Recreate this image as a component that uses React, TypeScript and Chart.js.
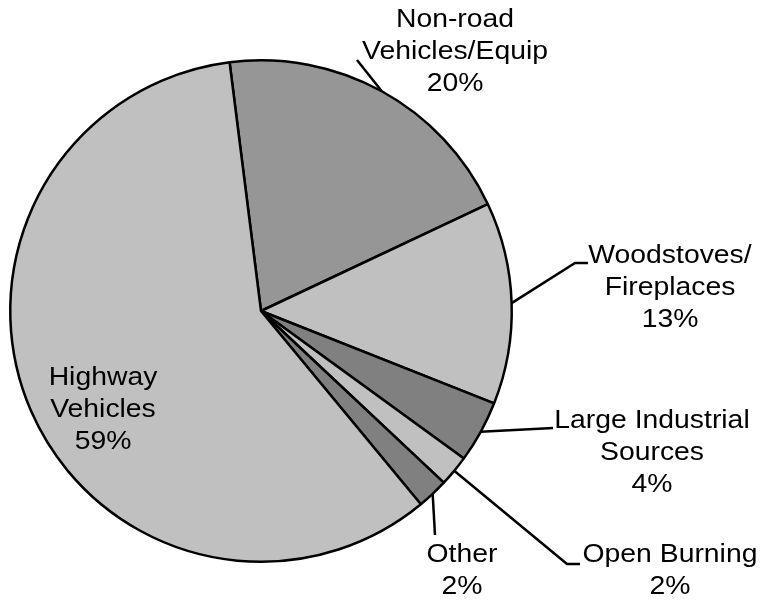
import React, { useEffect, useRef } from "react";
import { Chart, registerables } from "chart.js";

Chart.register(...registerables);

const categories: string[][] = [
  ["Non-road", "Vehicles/Equip"],
  ["Woodstoves/", "Fireplaces"],
  ["Large Industrial", "Sources"],
  ["Open Burning"],
  ["Other"],
  ["Highway", "Vehicles"],
];
const values: number[] = [20, 13, 4, 2, 2, 59];
const sliceColors: string[] = ["#969696", "#C0C0C0", "#808080", "#C0C0C0", "#808080", "#C0C0C0"];

// label layout: text center x, first baseline y, leader path points (after the slice edge point)
const labelLayout: { cx: number; y: number; path: number[][] | null }[] = [
  { cx: 455, y: 27, path: [[357, 60]] },
  { cx: 670, y: 263, path: [[575, 263], [588, 263]] },
  { cx: 652, y: 428, path: [[553, 428]] },
  { cx: 670, y: 562, path: [[567, 564], [580, 564]] },
  { cx: 462, y: 562, path: [[435, 535]] },
  { cx: 103, y: 385, path: null },
];

const FONT_SIZE = 26;
const LINE_H = 32;
const X_STRETCH = 1.09;

const labelPlugin = {
  id: "pieLabels",
  afterDatasetsDraw(chart: any) {
    const ctx = chart.ctx as CanvasRenderingContext2D;
    const meta = chart.getDatasetMeta(0);
    ctx.save();
    ctx.strokeStyle = "#000";
    ctx.lineWidth = 2.5;
    ctx.lineJoin = "miter";
    meta.data.forEach((arc: any, i: number) => {
      const lay = labelLayout[i];
      if (lay.path) {
        const mid = (arc.startAngle + arc.endAngle) / 2;
        const sx = arc.x + Math.cos(mid) * arc.outerRadius;
        const sy = arc.y + Math.sin(mid) * arc.outerRadius;
        ctx.beginPath();
        ctx.moveTo(sx, sy);
        lay.path.forEach((p) => ctx.lineTo(p[0], p[1]));
        ctx.stroke();
      }
    });
    ctx.fillStyle = "#000";
    ctx.font = `${FONT_SIZE}px "Liberation Sans", Arial, sans-serif`;
    ctx.textAlign = "center";
    ctx.textBaseline = "alphabetic";
    categories.forEach((lines, i) => {
      const lay = labelLayout[i];
      const all = [...lines, `${values[i]}%`];
      all.forEach((t, j) => {
        ctx.save();
        ctx.translate(lay.cx, lay.y + j * LINE_H);
        ctx.scale(X_STRETCH, 1);
        ctx.fillText(t, 0, 0);
        ctx.restore();
      });
    });
    ctx.restore();
  },
};

export default function App() {
  const ref = useRef<HTMLCanvasElement | null>(null);
  useEffect(() => {
    document.body.style.margin = "0";
    const chart = new Chart(ref.current!, {
      type: "pie",
      data: {
        labels: categories.map((c) => c.join(" ")),
        datasets: [
          {
            data: values,
            backgroundColor: sliceColors,
            borderColor: "#000",
            borderWidth: 2.5,
          },
        ],
      },
      options: {
        animation: false,
        responsive: false,
        rotation: -7.2,
        layout: { padding: { left: 9, right: 247, top: 59, bottom: 39 } },
        plugins: {
          legend: { display: false },
          tooltip: { enabled: false },
        },
      },
      plugins: [labelPlugin],
    });
    return () => chart.destroy();
  }, []);
  return (
    <div style={{ width: 760, height: 602, background: "#fff" }}>
      <canvas ref={ref} width={760} height={602} style={{ display: "block" }} />
    </div>
  );
}
